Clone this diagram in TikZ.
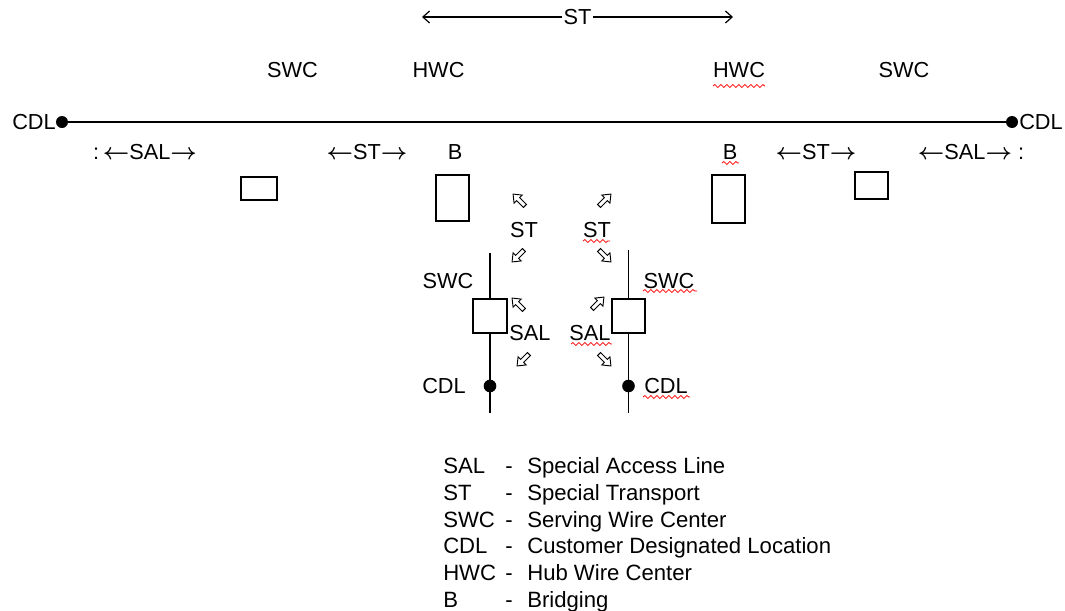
\documentclass[tikz,border=0pt]{standalone}
\usepackage{fontspec}
\setmainfont{Liberation Sans}
\usetikzlibrary{arrows.meta,decorations.pathmorphing}
\newcommand{\la}{\ensuremath{\boldsymbol{\leftarrow}}}
\newcommand{\ra}{\ensuremath{\boldsymbol{\rightarrow}}}
\usepackage{amsmath}
\begin{document}
\begin{tikzpicture}[x=0.75pt,y=-0.75pt,
  lbl/.style={inner sep=0pt, font=\fontsize{16.3}{19}\selectfont, anchor=base},
  lgd/.style={inner sep=0pt, font=\fontsize{16.6}{19}\selectfont, anchor=base west},
  boxn/.style={draw, line width=0.85pt, inner sep=0pt},
  dotn/.style={circle, fill=black, inner sep=0pt, minimum size=9pt},
  wire/.style={line width=1.7pt},
  vwire/.style={line width=1.1pt},
  squig/.style={red, line width=0.6pt, decorate, decoration={snake, amplitude=1.1pt, segment length=4.5pt}},
  harrow/.pic={\draw[line width=0.7pt, fill=white, scale=1.2] (-7,-1.8) -- (1,-1.8) -- (1,-4.8) -- (7,0) -- (1,4.8) -- (1,1.8) -- (-7,1.8) -- cycle;}
]
\useasboundingbox (0,0) rectangle (1065,611);

% top ST span
\coordinate (stL) at (422,17);
\coordinate (stR) at (733,17);
\draw[line width=0.9pt, {Straight Barb[length=5pt,width=9pt]}-{Straight Barb[length=5pt,width=9pt]}] (stL) -- (stR);
\node[lbl, fill=white, inner xsep=1pt, inner ysep=1pt] (sttop) at (577.5,24) {ST};

% top labels
\node[lbl] (swc1) at (292.5,77) {SWC};
\node[lbl] (hwc1) at (438.5,77) {HWC};
\node[lbl] (hwc2) at (739,77) {HWC};
\node[lbl] (swc2) at (904,77) {SWC};

% main line
\node[dotn] (dL) at (62,122) {};
\node[dotn] (dR) at (1012,122) {};
\draw[wire] (dL) -- (dR);
\node[lbl, anchor=base east] (cdlL) at (56,129) {CDL};
\node[lbl, anchor=base west] (cdlR) at (1019,129) {CDL};

% second row
\node[lbl] (salL) at (145,159) {:\,\la SAL\ra};
\node[lbl] (stL2) at (367,159) {\la ST\ra};
\node[lbl] (bL) at (455,159) {B};
\node[lbl] (bR) at (730,159) {B};
\node[lbl] (stR2) at (816,159) {\la ST\ra};
\node[lbl] (salR) at (971,159) {\la SAL\ra\ :};

% boxes
\node[boxn, minimum width=0.75*36pt, minimum height=0.75*23pt] (sbL) at (259,188.5) {};
\node[boxn, minimum width=0.75*33pt, minimum height=0.75*46pt] (bbL) at (452.5,198) {};
\node[boxn, minimum width=0.75*33pt, minimum height=0.75*48pt] (bbR) at (728.5,199) {};
\node[boxn, minimum width=0.75*33pt, minimum height=0.75*27pt] (sbR) at (871.5,185.5) {};

% central verticals
\node[boxn, minimum width=0.75*34pt, minimum height=0.75*34pt] (cbL) at (490,316) {};
\node[boxn, minimum width=0.75*33pt, minimum height=0.75*34pt] (cbR) at (628.5,316) {};
\coordinate (vLt) at (490,253);
\coordinate (vLb) at (490,413);
\coordinate (vRt) at (628.5,250);
\coordinate (vRb) at (628.5,413);
\draw[vwire] (vLt) -- (cbL.north);
\draw[vwire] (cbL.south) -- (vLb);
\draw[vwire] (vRt) -- (cbR.north);
\draw[vwire] (cbR.south) -- (vRb);
\node[dotn, minimum size=9.5pt] (cdL) at (490,386) {};
\node[dotn, minimum size=9.5pt] (cdR) at (628.5,386) {};

% central labels
\node[lbl] (stc1) at (524,237) {ST};
\node[lbl] (stc2) at (597,237) {ST};
\node[lbl] (swcc1) at (448,288) {SWC};
\node[lbl] (swcc2) at (669,288) {SWC};
\node[lbl] (salc1) at (530,340) {SAL};
\node[lbl] (salc2) at (590,340) {SAL};
\node[lbl] (cdlc1) at (444,393) {CDL};
\node[lbl] (cdlc2) at (666,393) {CDL};

% hollow arrows
\pic[rotate=135] at (519,200) {harrow};
\pic[rotate=45]  at (605,200) {harrow};
\pic[rotate=225] at (518,256) {harrow};
\pic[rotate=315] at (605,256) {harrow};
\pic[rotate=135] at (518,304) {harrow};
\pic[rotate=45]  at (598,303) {harrow};
\pic[rotate=225] at (523,360) {harrow};
\pic[rotate=315] at (605,360) {harrow};

% spell-check squiggles
\draw[squig] (713,86) -- (765,86);
\draw[squig] (722,163) -- (739,163);
\draw[squig] (583,241) -- (610,241);
\draw[squig] (643,291) -- (697,291);
\draw[squig] (571,344) -- (612,344);
\draw[squig] (643,397) -- (690,397);

% legend
\node[lgd] (la1) at (443,473) {SAL};
\node[lgd] (lh1) at (505,473) {-};
\node[lgd] (ld1) at (527,473) {Special Access Line};
\node[lgd] (la2) at (443,500) {ST};
\node[lgd] (lh2) at (505,500) {-};
\node[lgd] (ld2) at (527,500) {Special Transport};
\node[lgd] (la3) at (443,527) {SWC};
\node[lgd] (lh3) at (505,527) {-};
\node[lgd] (ld3) at (527,527) {Serving Wire Center};
\node[lgd] (la4) at (443,553.5) {CDL};
\node[lgd] (lh4) at (505,553.5) {-};
\node[lgd] (ld4) at (527,553.5) {Customer Designated Location};
\node[lgd] (la5) at (443,580) {HWC};
\node[lgd] (lh5) at (505,580) {-};
\node[lgd] (ld5) at (527,580) {Hub Wire Center};
\node[lgd] (la6) at (443,607) {B};
\node[lgd] (lh6) at (505,607) {-};
\node[lgd] (ld6) at (527,607) {Bridging};
\end{tikzpicture}
\end{document}
